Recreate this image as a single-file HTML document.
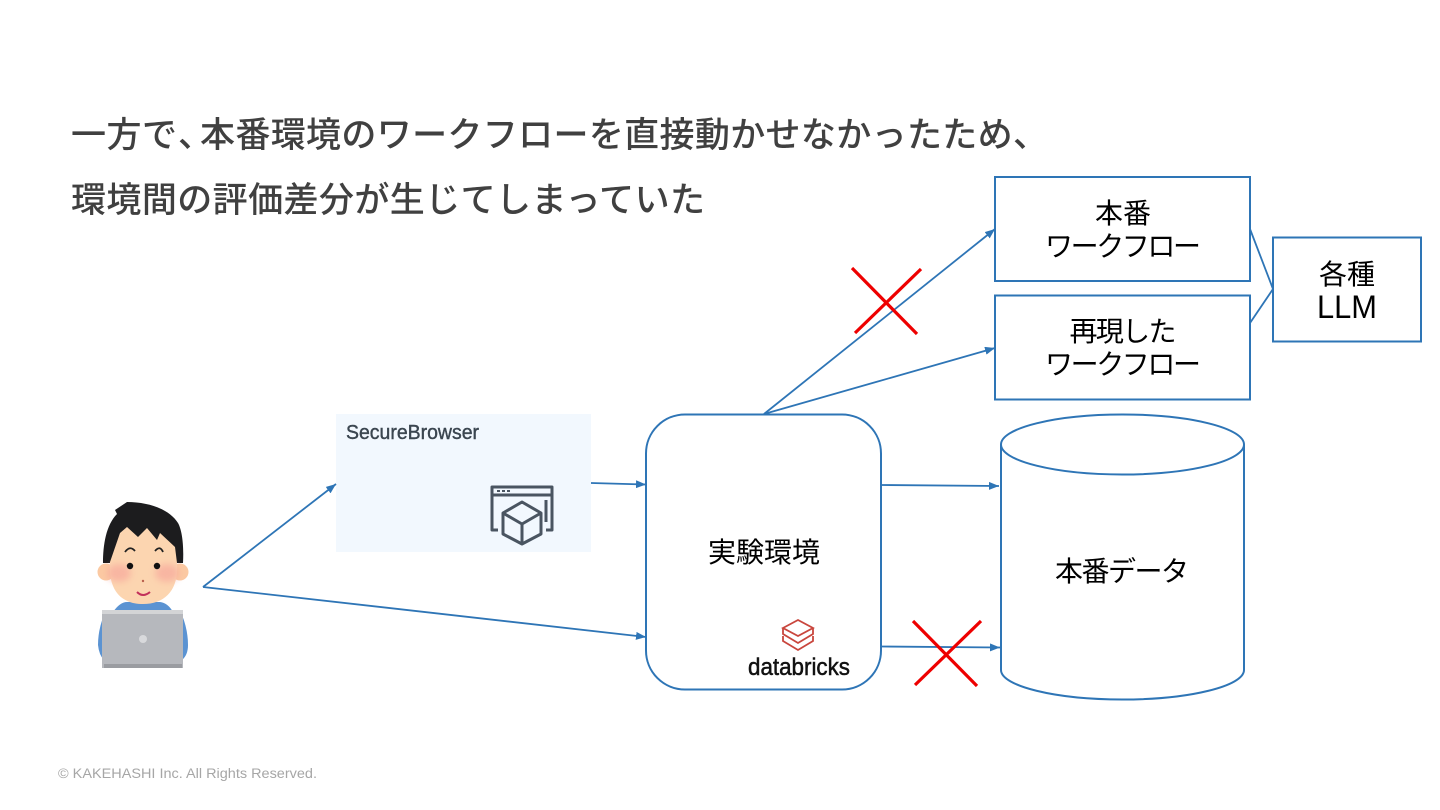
<!DOCTYPE html>
<html lang="ja">
<head>
<meta charset="utf-8">
<title>diagram</title>
<style>
html,body{margin:0;padding:0;background:#fff;width:1440px;height:810px;overflow:hidden}
svg{display:block}
text{font-family:"Liberation Sans","Noto Sans CJK JP",sans-serif}
.t{font-size:35px;font-weight:500;fill:#404040}
.b{font-size:28px;fill:#000;text-anchor:middle}
</style>
</head>
<body>
<svg width="1440" height="810" viewBox="0 0 1440 810" xmlns="http://www.w3.org/2000/svg">
<defs>
<marker id="a" markerUnits="userSpaceOnUse" markerWidth="11" markerHeight="8" refX="10" refY="4" orient="auto"><path d="M0 0L10 4L0 8Z" fill="#2e75b6"/></marker>
<filter id="s" x="-50%" y="-50%" width="200%" height="200%"><feGaussianBlur stdDeviation="3.500"/></filter>
</defs>

<text class="t" x="71" y="147" textLength="106" lengthAdjust="spacing">一方で</text>
<text class="t" x="178" y="147">、</text>
<text class="t" x="200" y="147" textLength="848" lengthAdjust="spacing">本番環境のワークフローを直接動かせなかったため、</text>
<text class="t" x="71" y="212" textLength="634" lengthAdjust="spacing">環境間の評価差分が生じてしまっていた</text>

<g fill="#fff" stroke="#2e75b6" stroke-width="2">
<rect x="995" y="177" width="255" height="104"/>
<rect x="995" y="295.500" width="255" height="104"/>
<rect x="1273" y="237.500" width="148" height="104"/>
<rect x="646" y="414.500" width="235" height="275" rx="39" ry="39"/>
<path d="M1001 444.500V670C1001 686 1055 699.500 1122.500 699.500S1244 686 1244 670V444.500"/>
<ellipse cx="1122.500" cy="444.500" rx="121.500" ry="30"/>
</g>

<text class="b" x="1123" y="223" textLength="56" lengthAdjust="spacing">本番</text>
<text class="b" x="1123" y="256" textLength="156" lengthAdjust="spacing">ワークフロー</text>
<text class="b" x="1123" y="341" textLength="107" lengthAdjust="spacing">再現した</text>
<text class="b" x="1123" y="374" textLength="156" lengthAdjust="spacing">ワークフロー</text>
<text class="b" x="1347" y="284" textLength="56" lengthAdjust="spacing">各種</text>
<text class="b" x="1347" y="318" style="font-size:32px" textLength="60" lengthAdjust="spacingAndGlyphs">LLM</text>
<text class="b" x="764" y="562" textLength="112" lengthAdjust="spacing">実験環境</text>
<text class="b" x="1122" y="581" textLength="134" lengthAdjust="spacing">本番データ</text>

<rect x="336" y="414" width="255" height="138" fill="#f2f8fe"/>
<text x="346" y="439" font-size="20" fill="#3b4650" stroke="#3b4650" stroke-width=".4" textLength="133" lengthAdjust="spacingAndGlyphs">SecureBrowser</text>
<g fill="none" stroke="#4a5561" stroke-width="3" stroke-linejoin="round">
<path d="M498 530H492V487H552V530H546"/>
<path d="M492 495H552"/>
<path d="M546 500V522"/>
<path d="M522 502L541 513V534L522 544L503 534V513Z"/>
<path d="M503 513L522 524L541 513M522 524V544"/>
</g>
<path d="M497 491h3M502 491h3M507 491h3" stroke="#4a5561" stroke-width="2"/>

<g fill="none" stroke="#c9463d" stroke-width="1.800">
<path d="M783 628L798 620L813 628L798 636Z"/>
<path d="M783 628V634L798 643L813 634V628"/>
<path d="M783 636V641L798 650L813 641V636"/>
</g>
<text x="748" y="675" font-size="24" fill="#111" stroke="#111" stroke-width=".5" textLength="102" lengthAdjust="spacingAndGlyphs">databricks</text>

<g stroke="#2e75b6" stroke-width="1.800" fill="none">
<path d="M203 587L336 484" marker-end="url(#a)"/>
<path d="M203 587L646 637" marker-end="url(#a)"/>
<path d="M591 483L646 484.500" marker-end="url(#a)"/>
<path d="M764 414L995 229" marker-end="url(#a)"/>
<path d="M764 414L995 348" marker-end="url(#a)"/>
<path d="M881 485L999 486" marker-end="url(#a)"/>
<path d="M881 646.500L1000 647.500" marker-end="url(#a)"/>
<path d="M1250 229L1273 289L1250 323"/>
</g>

<g stroke="#ee0000" stroke-width="3.200" fill="none">
<path d="M852 268L917 334"/>
<path d="M921 269L855 333"/>
<path d="M913 621L977 686"/>
<path d="M981 621L915 685"/>
</g>

<g>
<path d="M104 615Q98 630 98 645Q99 655 104 660H182Q188 655 188 645Q188 630 182 615L173 612Q168 603 160 602H127Q120 602 113 612Z" fill="#5b93d2"/>
<path d="M127 502L115 510L117 514C106 525 103 545 103 563H183C184 545 182 530 178 523C170 510 150 502 127 502Z" fill="#1c1c1e"/>
<circle cx="106" cy="572" r="8.500" fill="#fbc9a2"/>
<circle cx="180" cy="572" r="8.500" fill="#fbc9a2"/>
<path d="M110 562L120 533L127 527L138 537L147 528L157 540L160 533L175 547L177 563C179 590 165 604 143 604C121 604 108 590 110 562Z" fill="#fcd5b0"/>
<ellipse cx="119" cy="573" rx="12" ry="9" fill="#f7a99c" opacity=".7" filter="url(#s)"/>
<ellipse cx="167" cy="573" rx="12" ry="9" fill="#f7a99c" opacity=".7" filter="url(#s)"/>
<circle cx="130" cy="566" r="3.200" fill="#111"/>
<circle cx="157" cy="566" r="3.200" fill="#111"/>
<path d="M125 552Q130 545 135 551M155 551Q160 545 163 552" stroke="#222" stroke-width="1.800" fill="none"/>
<circle cx="143" cy="581" r="1.200" fill="#b9604e"/>
<path d="M137 592Q143 598 150 592" stroke="#c2305a" stroke-width="2" fill="none"/>
<rect x="102" y="610" width="81" height="58" fill="#b6b8bd"/>
<rect x="102" y="610" width="81" height="4" fill="#d3d4d6"/>
<rect x="104" y="664" width="78" height="4" fill="#9a9ca1"/>
<circle cx="143" cy="639" r="4" fill="#d8d9dc"/>
</g>

<text x="58" y="778" font-size="13.500" fill="#a6a6a6" textLength="259" lengthAdjust="spacingAndGlyphs">© KAKEHASHI Inc. All Rights Reserved.</text>
</svg>
</body>
</html>
